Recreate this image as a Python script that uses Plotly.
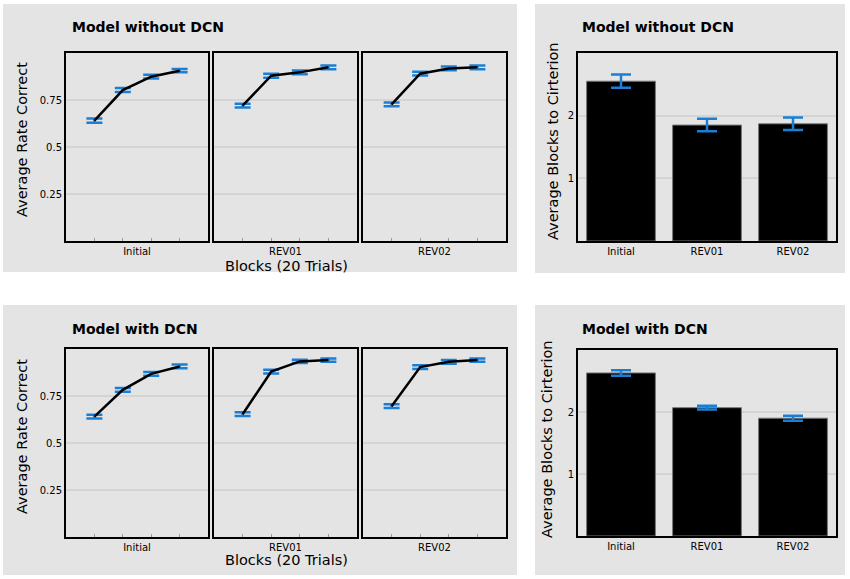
import plotly.graph_objects as go

W, H = 850, 579

# Average rate correct, 4 blocks per phase
blocks = [1, 2, 3, 4]
phases = ["Initial", "REV01", "REV02"]

rate_nodcn_initial = [0.640, 0.803, 0.874, 0.906]
rate_nodcn_rev01 = [0.720, 0.879, 0.897, 0.924]
rate_nodcn_rev02 = [0.727, 0.890, 0.918, 0.924]
err_nodcn_initial = [0.011, 0.011, 0.010, 0.009]
err_nodcn_rev01 = [0.010, 0.010, 0.010, 0.010]
err_nodcn_rev02 = [0.010, 0.010, 0.010, 0.010]

rate_dcn_initial = [0.640, 0.783, 0.868, 0.907]
rate_dcn_rev01 = [0.653, 0.880, 0.934, 0.941]
rate_dcn_rev02 = [0.696, 0.904, 0.932, 0.941]
err_dcn_initial = [0.010, 0.010, 0.010, 0.010]
err_dcn_rev01 = [0.010, 0.010, 0.009, 0.009]
err_dcn_rev02 = [0.010, 0.010, 0.010, 0.009]

# Average blocks to criterion
crit_nodcn = [2.55, 1.85, 1.87]
crit_nodcn_err = [0.105, 0.10, 0.10]
crit_dcn = [2.63, 2.07, 1.90]
crit_dcn_err = [0.045, 0.03, 0.04]

BLUE = "#1a7fd4"
GRAY_BG = "#e4e4e4"
GRID = "#d4d4d4"
FONT = "DejaVu Sans"


def fx(px):
    return px / W


def fy(py):
    return 1 - py / H


fig = go.Figure()

line_rows = [
    (53, 241, [rate_nodcn_initial, rate_nodcn_rev01, rate_nodcn_rev02],
     [err_nodcn_initial, err_nodcn_rev01, err_nodcn_rev02]),
    (349, 537, [rate_dcn_initial, rate_dcn_rev01, rate_dcn_rev02],
     [err_dcn_initial, err_dcn_rev01, err_dcn_rev02]),
]
panel_x = [(66, 208), (214, 357), (363, 506)]

n = 0
for top, bottom, series, errs in line_rows:
    for i, (x0, x1) in enumerate(panel_x):
        n += 1
        xa = "x" if n == 1 else f"x{n}"
        ya = "y" if n == 1 else f"y{n}"
        fig.add_trace(go.Scatter(
            x=blocks, y=series[i], mode="lines",
            line=dict(color="black", width=2.5),
            error_y=dict(type="data", array=errs[i], color=BLUE, thickness=2.5, width=8),
            xaxis=xa, yaxis=ya, showlegend=False,
        ))
        fig.layout[f"xaxis{'' if n == 1 else n}"] = dict(
            domain=[fx(x0), fx(x1)], anchor=ya, range=[0, 5],
            tickvals=[2.5], ticktext=[phases[i]], ticks="",
            minor=dict(tickvals=blocks, ticks="inside", ticklen=3, tickcolor="#999", showgrid=False),
            showgrid=False, zeroline=False, showline=True, mirror=True,
            linecolor="black", linewidth=2, fixedrange=True,
            tickfont=dict(size=10, color="black", family=FONT),
        )
        fig.layout[f"yaxis{'' if n == 1 else n}"] = dict(
            domain=[fy(bottom), fy(top)], anchor=xa, range=[0, 1],
            tickvals=[0.25, 0.5, 0.75], ticktext=["0.25", "0.5", "0.75"],
            showticklabels=(i == 0), ticks="",
            showgrid=True, gridcolor=GRID, gridwidth=1.5, zeroline=False,
            showline=True, mirror=True, linecolor="black", linewidth=2,
            tickfont=dict(size=10, color="black", family=FONT),
        )

bar_rows = [(53, 241, crit_nodcn, crit_nodcn_err), (350, 536, crit_dcn, crit_dcn_err)]
for top, bottom, vals, errs in bar_rows:
    n += 1
    xa, ya = f"x{n}", f"y{n}"
    fig.add_trace(go.Bar(
        x=phases, y=vals,
        marker=dict(color="black", line=dict(color="#777", width=1)),
        error_y=dict(type="data", array=errs, color=BLUE, thickness=2.5, width=10),
        xaxis=xa, yaxis=ya, showlegend=False,
    ))
    fig.layout[f"xaxis{n}"] = dict(
        domain=[fx(578), fx(836)], anchor=ya, ticks="",
        showgrid=False, zeroline=False, showline=True, mirror=True,
        linecolor="black", linewidth=2,
        tickfont=dict(size=10, color="black", family=FONT),
    )
    fig.layout[f"yaxis{n}"] = dict(
        domain=[fy(bottom), fy(top)], anchor=xa, range=[0, 3],
        tickvals=[1, 2], ticks="",
        showgrid=True, gridcolor=GRID, gridwidth=1.5, zeroline=False,
        showline=True, mirror=True, linecolor="black", linewidth=2,
        tickfont=dict(size=10, color="black", family=FONT),
    )

# grey panel backgrounds
for x0, y0, x1, y1 in [(3, 4, 517, 272), (535, 4, 845, 273), (3, 305, 517, 575), (535, 305, 845, 575)]:
    fig.add_shape(type="rect", xref="paper", yref="paper",
                  x0=fx(x0), x1=fx(x1), y0=fy(y1), y1=fy(y0),
                  fillcolor=GRAY_BG, line=dict(width=0), layer="below")

notes = [
    ("<b>Model without DCN</b>", 70, 27, 14, 0, "left"),
    ("<b>Model without DCN</b>", 580, 27, 14, 0, "left"),
    ("<b>Model with DCN</b>", 70, 329, 14, 0, "left"),
    ("<b>Model with DCN</b>", 580, 329, 14, 0, "left"),
    ("Average Rate Correct", 22, 140, 14.5, -90, "center"),
    ("Average Rate Correct", 22, 437, 14.5, -90, "center"),
    ("Average Blocks to Cirterion", 553, 142, 14.5, -90, "center"),
    ("Average Blocks to Cirterion", 547, 440, 14.5, -90, "center"),
    ("Blocks (20 Trials)", 286, 266, 14.5, 0, "center"),
    ("Blocks (20 Trials)", 286, 560, 14.5, 0, "center"),
]
for text, x, y, size, angle, anchor in notes:
    fig.add_annotation(text=text, xref="paper", yref="paper", x=fx(x), y=fy(y),
                       xanchor=anchor, yanchor="middle", showarrow=False, textangle=angle,
                       font=dict(size=size, color="black", family=FONT))

fig.update_layout(
    width=W, height=H,
    margin=dict(l=0, r=0, t=0, b=0),
    paper_bgcolor="white", plot_bgcolor="white",
    bargap=0.2,
    font=dict(family=FONT),
)

# drop the default page margin so the figure sits at the window's top-left corner
fig.write_html("out.html", config={"displayModeBar": False},
               post_script="document.body.style.margin='0px';")
